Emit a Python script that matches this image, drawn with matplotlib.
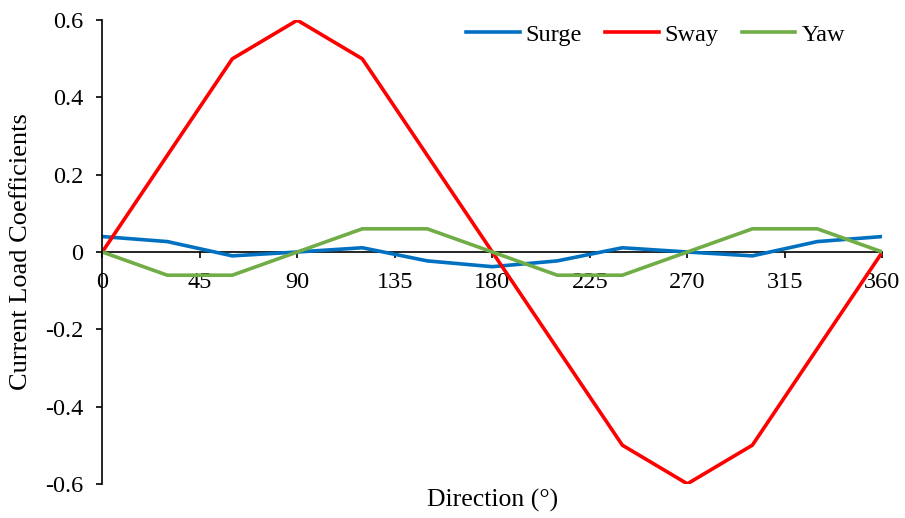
import matplotlib
matplotlib.use('Agg')
import matplotlib.pyplot as plt

# Current load coefficients vs heading
directions = [0, 30, 60, 90, 120, 150, 180, 210, 240, 270, 300, 330, 360]
surge = [0.04, 0.027, -0.01, 0.0, 0.011, -0.023, -0.038, -0.023, 0.011, 0.0, -0.01, 0.027, 0.04]
sway = [0.0, 0.25, 0.5, 0.6, 0.5, 0.25, 0.0, -0.25, -0.5, -0.6, -0.5, -0.25, 0.0]
yaw = [0.0, -0.06, -0.06, 0.0, 0.06, 0.06, 0.0, -0.06, -0.06, 0.0, 0.06, 0.06, 0.0]

x_ticks = [0, 45, 90, 135, 180, 225, 270, 315, 360]
y_ticks = [-0.6, -0.4, -0.2, 0, 0.2, 0.4, 0.6]
y_labels = ["-0.6", "-0.4", "-0.2", "0", "0.2", "0.4", "0.6"]

plt.rcParams['font.family'] = ['Liberation Serif', 'DejaVu Serif']
plt.rcParams['font.size'] = 17.5

fig = plt.figure(figsize=(9.05, 5.18), dpi=100)
ax = fig.add_axes([0.113, 0.066, 0.862, 0.895])

ax.plot(directions, surge, color="#0070C0", lw=2.6, label="Surge", solid_joinstyle="round")
ax.plot(directions, sway, color="#FF0000", lw=2.6, label="Sway", solid_joinstyle="round")
ax.plot(directions, yaw, color="#70AD47", lw=2.6, label="Yaw", solid_joinstyle="round")

ax.set_xlim(0, 360)
ax.set_ylim(-0.6, 0.6)
ax.set_xticks(x_ticks)
ax.set_yticks(y_ticks)
ax.set_yticklabels(y_labels)

ax.spines['top'].set_visible(False)
ax.spines['right'].set_visible(False)
ax.spines['bottom'].set_position(('data', 0))
ax.spines['bottom'].set_zorder(0)
for s in ('left', 'bottom'):
    ax.spines[s].set_linewidth(1.2)
ax.tick_params(axis='both', direction='out', length=4.5, width=1.2, labelsize=17.5)
ax.tick_params(axis='x', pad=10)
ax.tick_params(axis='y', pad=9)

ax.set_xlabel("Direction (°)", fontsize=18.5)
ax.xaxis.set_label_coords(0.5, -0.012)
ax.set_ylabel("Current Load Coefficients", fontsize=19)
ax.yaxis.set_label_coords(-0.09, 0.5)

ax.legend(loc='upper right', ncol=3, frameon=False, fontsize=17.5,
          handlelength=2.2, columnspacing=0.95, handletextpad=0.25,
          bbox_to_anchor=(0.98, 1.04))

fig.savefig("out.png", dpi=100)
